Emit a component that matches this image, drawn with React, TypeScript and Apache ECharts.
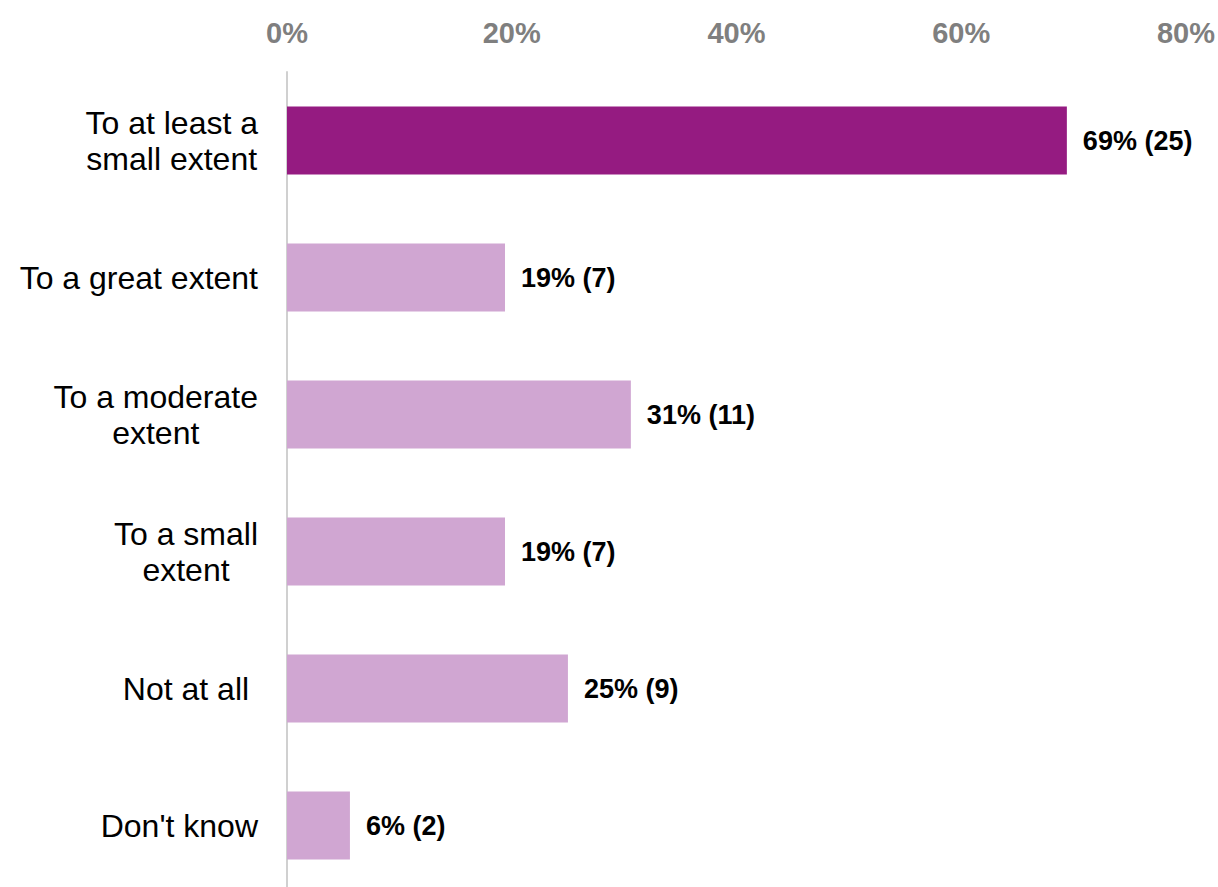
import React, { useEffect, useRef } from "react";
import * as echarts from "echarts";

const categories = [
  "To at least a\nsmall extent",
  "To a great extent",
  "To a moderate\nextent",
  "To a small\nextent",
  "Not at all ",
  "Don't know",
];
const percentValues = [69.4, 19.4, 30.6, 19.4, 25.0, 5.6];
const percentLabels = ["69%", "19%", "31%", "19%", "25%", "6%"];
const counts = [25, 7, 11, 7, 9, 2];
const xTicks = [0, 20, 40, 60, 80];

const DARK = "#951B81";
const LIGHT = "#D0A6D2";
const FONT = "'Liberation Sans', Arial, sans-serif";

export default function App() {
  const ref = useRef<HTMLDivElement>(null);
  useEffect(() => {
    document.body.style.margin = "0";
    document.body.style.overflow = "hidden";
    document.documentElement.style.overflow = "hidden";
    if (!ref.current) return;
    const chart = echarts.init(ref.current, undefined, { renderer: "svg" });
    chart.setOption({
      animation: false,
      grid: { left: 287, right: 30, top: 72, bottom: 0, containLabel: false },
      xAxis: {
        type: "value",
        position: "top",
        min: xTicks[0],
        max: xTicks[xTicks.length - 1],
        interval: 20,
        axisLine: { show: false },
        axisTick: { show: false },
        splitLine: { show: false },
        axisLabel: {
          formatter: (v: number) => `${v}%`,
          color: "#7F7F7F",
          fontFamily: FONT,
          fontWeight: "bold",
          fontSize: 29,
          margin: 25,
        },
      },
      yAxis: {
        type: "category",
        inverse: true,
        data: categories,
        axisLine: { show: true, lineStyle: { color: "#D0D0D0", width: 2 } },
        axisTick: { show: false },
        splitLine: { show: false },
        axisLabel: {
          margin: 29,
          align: "right",
          formatter: (v: string) =>
            v
              .split("\n")
              .map((l) => `{c|${l}}`)
              .join("\n"),
          rich: {
            c: {
              align: "center",
              color: "#000000",
              fontFamily: FONT,
              fontSize: 32,
              lineHeight: 36,
            },
          },
        },
      },
      series: [
        {
          type: "bar",
          data: percentValues.map((v, i) => ({
            value: v,
            itemStyle: { color: i === 0 ? DARK : LIGHT },
          })),
          barWidth: 68,
          label: {
            show: true,
            position: "right",
            distance: 16,
            formatter: (p: any) => `${percentLabels[p.dataIndex]} (${counts[p.dataIndex]})`,
            color: "#000000",
            fontFamily: FONT,
            fontWeight: "bold",
            fontSize: 27,
          },
        },
      ],
    });
    return () => chart.dispose();
  }, []);
  return (
    <div
      ref={ref}
      style={{ position: "absolute", left: 0, top: 0, width: 1218, height: 894 }}
    />
  );
}
